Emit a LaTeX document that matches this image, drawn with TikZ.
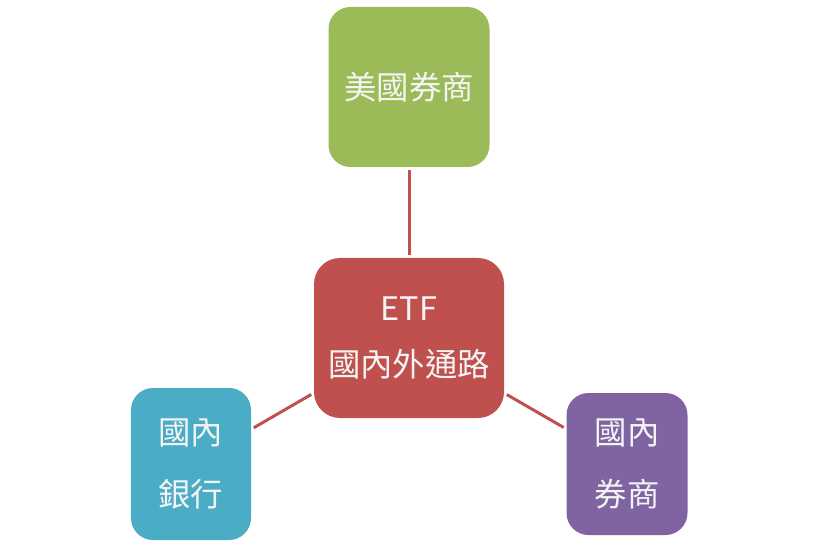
\documentclass[tikz,border=0pt]{standalone}
\usepackage{fontspec}
\setmainfont{Noto Sans CJK TC}
\usepackage{tikz}
\usetikzlibrary{positioning}
\definecolor{redbox}{HTML}{C0504D}
\definecolor{greenbox}{HTML}{9BBB59}
\definecolor{bluebox}{HTML}{4BACC6}
\definecolor{purplebox}{HTML}{8064A2}
\definecolor{boxtext}{HTML}{F4F4F4}

\begin{document}
\begin{tikzpicture}[x=1bp,y=-1bp,node distance=1bp,on grid,
  box/.style={rounded corners=22bp,inner sep=0pt,text=boxtext,align=center,
    font=\fontsize{32.5}{62}\selectfont},
  link/.style={draw=redbox,line width=3bp,shorten >=3bp,shorten <=3bp}]
\useasboundingbox (0,0) rectangle (820,550);
\node[box,fill=redbox,minimum width=190bp,minimum height=160bp,rounded corners=26bp,
  font=\fontsize{32.5}{56}\selectfont] (etf) at (409,338) {ETF\\國內外通路};
\node[box,fill=greenbox,minimum width=161bp,minimum height=160bp] (us_broker) [above=251bp of etf] {美國券商};
\node[box,fill=bluebox,minimum width=120bp,minimum height=152bp] (bank) [below left=126bp and 218bp of etf] {國內\\銀行};
\node[box,fill=purplebox,minimum width=121bp,minimum height=142bp] (broker) [below right=126bp and 218bp of etf] {國內\\券商};
\path[link]
(etf) edge (us_broker)
(etf) edge (bank)
(etf) edge (broker)
;
\end{tikzpicture}
\end{document}
